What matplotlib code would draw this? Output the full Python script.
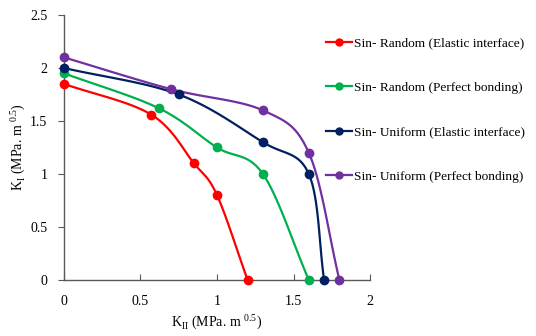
import matplotlib
matplotlib.use("Agg")
import matplotlib.pyplot as plt
import numpy as np

plt.rcParams['font.family'] = 'Liberation Serif'
plt.rcParams['mathtext.fontset'] = 'custom'
plt.rcParams['mathtext.rm'] = 'Liberation Serif'

# K_II and K_I values for each case
red_x = [0, 0.57, 0.85, 1.0, 1.2]
red_y = [1.85, 1.56, 1.1, 0.8, 0]
green_x = [0, 0.62, 1.0, 1.3, 1.6]
green_y = [1.95, 1.62, 1.25, 1.0, 0]
navy_x = [0, 0.75, 1.3, 1.6, 1.7]
navy_y = [2.0, 1.75, 1.3, 1.0, 0]
purple_x = [0, 0.7, 1.3, 1.6, 1.8]
purple_y = [2.1, 1.8, 1.6, 1.2, 0]

labels = ['Sin- Random (Elastic interface)',
          'Sin- Random (Perfect bonding)',
          'Sin- Uniform (Elastic interface)',
          'Sin- Uniform (Perfect bonding)']
colors = ['#FF0000', '#00B050', '#002060', '#7030A0']


def smooth(x, y, n=30):
    # catmull-rom curve through the points, like excel smoothed lines
    x = np.asarray(x, float)
    y = np.asarray(y, float)
    px = np.concatenate([[2 * x[0] - x[1]], x, [2 * x[-1] - x[-2]]])
    py = np.concatenate([[2 * y[0] - y[1]], y, [2 * y[-1] - y[-2]]])
    xs, ys = [], []
    t = np.linspace(0, 1, n)
    for i in range(1, len(px) - 2):
        p0, p1, p2, p3 = px[i - 1], px[i], px[i + 1], px[i + 2]
        q0, q1, q2, q3 = py[i - 1], py[i], py[i + 1], py[i + 2]
        c1x, c1y = p1 + (p2 - p0) / 6, q1 + (q2 - q0) / 6
        c2x, c2y = p2 - (p3 - p1) / 6, q2 - (q3 - q1) / 6
        bx = (1 - t) ** 3 * p1 + 3 * (1 - t) ** 2 * t * c1x + 3 * (1 - t) * t ** 2 * c2x + t ** 3 * p2
        by = (1 - t) ** 3 * q1 + 3 * (1 - t) ** 2 * t * c1y + 3 * (1 - t) * t ** 2 * c2y + t ** 3 * q2
        xs.extend(bx)
        ys.extend(by)
    return np.array(xs), np.array(ys)


fig = plt.figure(figsize=(5.36, 3.36), dpi=100)
ax = fig.add_axes([0.1194, 0.1667, 0.5709, 0.7887])

series = [(red_x, red_y), (green_x, green_y), (navy_x, navy_y), (purple_x, purple_y)]
handles = []
for (xv, yv), c, lab in zip(series, colors, labels):
    sx, sy = smooth(xv, yv)
    ax.plot(sx, sy, color=c, lw=1.6, clip_on=False, zorder=3)
    ax.plot(xv, yv, 'o', color=c, ms=6, clip_on=False, zorder=4)
    h, = ax.plot([], [], '-o', color=c, lw=1.6, ms=5, label=lab)
    handles.append(h)

ax.set_xlim(0, 2)
ax.set_ylim(0, 2.5)
ax.set_xticks([0, 0.5, 1, 1.5, 2])
ax.set_xticklabels(['0', '0.5', '1', '1.5', '2'])
ax.set_yticks([0, 0.5, 1, 1.5, 2, 2.5])
ax.set_yticklabels(['0', '0.5', '1', '1.5', '2', '2.5'])
ax.spines['top'].set_visible(False)
ax.spines['right'].set_visible(False)
for s in ['left', 'bottom']:
    ax.spines[s].set_color('#595959')
    ax.spines[s].set_linewidth(1.0)
ax.tick_params(axis='x', direction='in', length=4, color='#595959', labelsize=10, pad=11)
ax.tick_params(axis='y', direction='out', length=4, color='#595959', labelsize=10, pad=8)

ax.set_xlabel(r'K$_{\mathrm{II}}$ (MPa. m $^{0.5}$)', fontsize=10, labelpad=3)
ax.set_ylabel(r'K$_{\mathrm{I}}$ (MPa. m $^{0.5}$)', fontsize=10, labelpad=2)

fig.legend(handles=handles, loc='upper left', bbox_to_anchor=(0.585, 0.925),
           frameon=False, fontsize=9.6, handlelength=2.0, handletextpad=0.1,
           labelspacing=2.4)

fig.savefig('out.png', dpi=100)
